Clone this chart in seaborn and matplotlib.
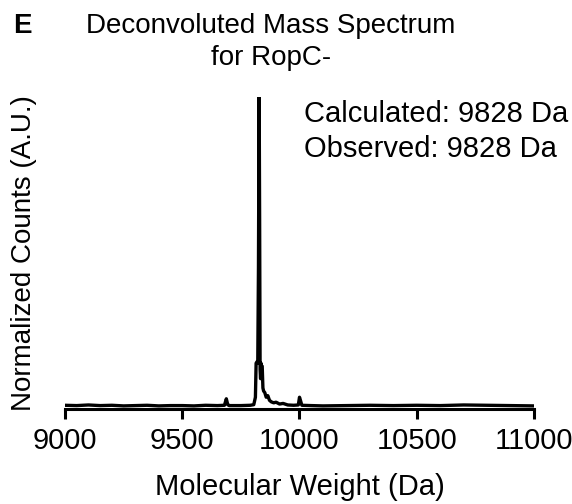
import pandas as pd
import matplotlib
matplotlib.use("Agg")
import matplotlib.pyplot as plt
import seaborn as sns

# deconvoluted spectrum (Da, normalized counts)
mass = [9000, 9050, 9100, 9150, 9200, 9250, 9300, 9350, 9400, 9450, 9500, 9550,
        9600, 9650, 9680, 9688, 9694, 9700, 9750, 9790, 9805, 9812, 9815, 9819,
        9822, 9825, 9827, 9828, 9830, 9832, 9834, 9836, 9838, 9841, 9844, 9847,
        9852, 9858, 9865, 9872, 9880, 9890, 9900, 9915, 9930, 9950, 9975, 9995,
        10000, 10004, 10010, 10050, 10100, 10200, 10300, 10400, 10500, 10600,
        10700, 10800, 10900, 11000]
counts = [0.004, 0.003, 0.005, 0.003, 0.004, 0.002, 0.003, 0.004, 0.002, 0.003, 0.003, 0.002,
          0.004, 0.003, 0.004, 0.025, 0.006, 0.003, 0.003, 0.004, 0.006, 0.03, 0.14, 0.145,
          0.14, 0.45, 0.85, 1.0, 0.6, 0.12, 0.09, 0.14, 0.13, 0.13, 0.06, 0.05,
          0.045, 0.03, 0.035, 0.02, 0.015, 0.012, 0.014, 0.008, 0.01, 0.005, 0.004, 0.005,
          0.03, 0.02, 0.004, 0.003, 0.002, 0.003, 0.004, 0.003, 0.004, 0.003,
          0.005, 0.004, 0.003, 0.002]

x_ticks = [9000, 9500, 10000, 10500, 11000]

df = pd.DataFrame({"mass": mass, "counts": counts})

sns.set_theme(style="white")
plt.rcParams["font.family"] = ["Liberation Sans", "DejaVu Sans"]
plt.rcParams["text.color"] = "black"
plt.rcParams["axes.labelcolor"] = "black"
plt.rcParams["xtick.color"] = "black"

fig = plt.figure(figsize=(5.72, 5.04), dpi=100)
ax = fig.add_axes([0.1136, 0.1885, 0.82, 0.619])

sns.lineplot(data=df, x="mass", y="counts", ax=ax, color="black", linewidth=2.4)

ax.set_xlim(9000, 11000)
ax.set_ylim(-0.008, 1.0)
ax.set_xticks(x_ticks)
ax.set_xticklabels([str(t) for t in x_ticks], fontsize=21)
ax.set_yticks([])
ax.tick_params(axis="x", direction="out", length=7, width=2.2, colors="black", pad=6, bottom=True)

for side in ["top", "right", "left"]:
    ax.spines[side].set_visible(False)
ax.spines["bottom"].set_linewidth(2.2)
ax.spines["bottom"].set_color("black")

ax.set_xlabel("Molecular Weight (Da)", fontsize=21, labelpad=13)
ax.set_ylabel("Normalized Counts (A.U.)", fontsize=20, labelpad=20)

fig.text(0.023, 0.948, "E", fontsize=20, fontweight="bold", va="center", ha="left")
fig.text(0.474, 0.948, "Deconvoluted Mass Spectrum", fontsize=20, va="center", ha="center")
fig.text(0.474, 0.885, "for RopC-", fontsize=20, va="center", ha="center")

ax.text(0.51, 0.944, "Calculated: 9828 Da", transform=ax.transAxes, fontsize=21, va="center", ha="left")
ax.text(0.51, 0.832, "Observed: 9828 Da", transform=ax.transAxes, fontsize=21, va="center", ha="left")

fig.savefig("out.png", dpi=100)
